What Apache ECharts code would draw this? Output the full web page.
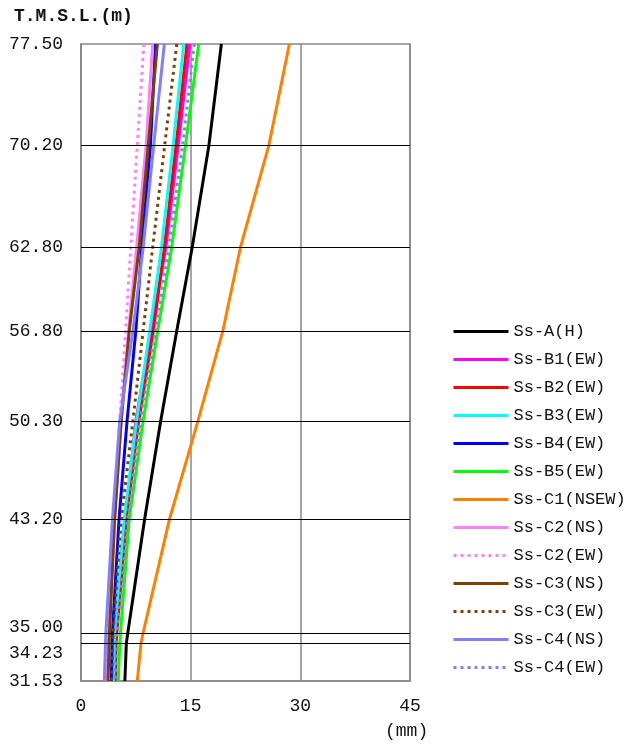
<!DOCTYPE html>
<html>
<head>
<meta charset="utf-8">
<script src="https://cdn.jsdelivr.net/npm/echarts@6/dist/echarts.min.js"></script>
<style>html,body{margin:0;padding:0;background:#fff;}#c{width:628px;height:747px;}</style>
</head>
<body>
<div id="c"></div>
<script>
// Elevations (m) at which displacements are given
var levels = [77.50, 70.20, 62.80, 56.80, 50.30, 43.20, 35.00, 34.23, 31.53];
var yTicks = [31.53, 34.23, 35.00, 43.20, 50.30, 56.80, 62.80, 70.20, 77.50];
var innerLines = [34.23, 35.00, 43.20, 50.30, 56.80, 62.80, 70.20];
var seriesNames = ['Ss-A(H)','Ss-B1(EW)','Ss-B2(EW)','Ss-B3(EW)','Ss-B4(EW)','Ss-B5(EW)','Ss-C1(NSEW)','Ss-C2(NS)','Ss-C2(EW)','Ss-C3(NS)','Ss-C3(EW)','Ss-C4(NS)','Ss-C4(EW)'];
// displacement (mm) per series, same order as levels
var ssA   = [19.2, 17.5, 15.2, 13.1, 10.9, 8.7, 6.4, 6.2, 6.0];
var ssB1  = [14.9, 13.3, 11.6, 9.6, 7.5, 6.1, 4.8, 4.75, 4.6];
var ssB2  = [14.5, 13.0, 11.4, 9.9, 7.9, 6.2, 4.9, 4.8, 4.7];
var ssB3  = [14.05, 12.6, 11.0, 9.4, 7.6, 5.9, 4.6, 4.55, 4.45];
var ssB4  = [10.2, 9.5, 8.3, 7.5, 6.3, 5.2, 4.3, 4.25, 4.15];
var ssB5  = [16.1, 14.3, 12.4, 10.5, 8.5, 6.6, 5.4, 5.3, 5.1];
var ssC1  = [28.5, 25.7, 21.8, 19.4, 16.0, 12.1, 8.5, 8.2, 7.7];
var ssC2NS = [9.8, 8.9, 7.6, 6.5, 5.5, 4.6, 3.8, 3.75, 3.6];
var ssC2EW = [8.6, 7.7, 6.8, 6.1, 5.3, 4.4, 3.7, 3.65, 3.5];
var ssC3NS = [10.45, 9.2, 7.95, 6.6, 5.5, 4.6, 3.9, 3.85, 3.7];
var ssC3EW = [13.1, 11.45, 9.8, 8.5, 7.1, 5.5, 4.4, 4.35, 4.2];
var ssC4NS = [11.4, 9.95, 8.5, 7.1, 5.3, 4.3, 3.4, 3.35, 3.2];
var ssC4EW = [15.5, 13.9, 12.0, 10.2, 8.1, 6.4, 4.9, 4.85, 4.7];

var values = [ssA, ssB1, ssB2, ssB3, ssB4, ssB5, ssC1, ssC2NS, ssC2EW, ssC3NS, ssC3EW, ssC4NS, ssC4EW];
var colors = ['#000000','#ff00ff','#ff0000','#00ffff','#0000ff','#00ff00','#ff8000','#ff80ff','#ff80ff','#804000','#804000','#8080ff','#8080ff'];
var dotted = [false,false,false,false,false,false,false,false,true,false,true,false,true];

var FONT = '"Liberation Mono", "DejaVu Sans Mono", monospace';

var series = [{
  name: '_grid', type: 'line', data: [], silent: true, z: 1,
  markLine: {
    silent: true, symbol: 'none', label: {show: false},
    lineStyle: {color: '#000', width: 1, type: 'solid'},
    data: innerLines.map(function(v){ return {yAxis: v}; })
  }
}];
values.forEach(function(arr, i){
  series.push({
    name: seriesNames[i], type: 'line', symbol: 'none', showSymbol: false, z: 3,
    color: colors[i],
    lineStyle: {color: colors[i], width: 3, type: dotted[i] ? [3, 4] : 'solid'},
    data: arr.map(function(x, k){ return [x, levels[k]]; })
  });
});

var chart = echarts.init(document.getElementById('c'), null, {renderer: 'canvas'});
chart.setOption({
  animation: false,
  backgroundColor: '#fff',
  grid: {left: 81, right: 218, top: 44, bottom: 66, show: true, borderColor: '#888', borderWidth: 1.5, backgroundColor: 'transparent'},
  xAxis: {
    type: 'value', min: 0, max: 45, interval: 15,
    axisLine: {show: true, lineStyle: {color: '#888', width: 1.5}},
    axisTick: {show: false},
    splitLine: {show: true, lineStyle: {color: '#888', width: 1.5}},
    axisLabel: {color: '#111', fontFamily: FONT, fontSize: 18, margin: 16}
  },
  yAxis: {
    type: 'value', min: 31.53, max: 77.5,
    axisLine: {show: true, lineStyle: {color: '#888', width: 1.5}},
    axisTick: {show: false},
    splitLine: {show: false},
    axisLabel: {
      customValues: yTicks, color: '#111', fontFamily: FONT, fontSize: 18, margin: 18,
      formatter: function(v){
        var s = v.toFixed(2);
        if (s === '35.00') return '{up|' + s + '}';
        if (s === '34.23') return '{dn|' + s + '}';
        return s;
      },
      rich: {
        up: {fontFamily: FONT, fontSize: 18, color: '#111', padding: [0, 0, 12, 0]},
        dn: {fontFamily: FONT, fontSize: 18, color: '#111', padding: [20, 0, 0, 0]}
      }
    }
  },
  legend: {
    data: seriesNames, orient: 'vertical', left: 452, top: 323, padding: 0,
    itemWidth: 55, itemHeight: 20, itemGap: 11,
    itemStyle: {opacity: 0},
    lineStyle: {width: 3},
    textStyle: {fontFamily: FONT, fontSize: 17, color: '#111'}
  },
  graphic: [
    {type: 'text', left: 14, top: 7, style: {text: 'T.M.S.L.(m)', font: 'bold 18px ' + FONT, fill: '#111'}},
    {type: 'text', left: 385, top: 722, style: {text: '(mm)', font: '18px ' + FONT, fill: '#111'}}
  ],
  series: series
});
</script>
</body>
</html>
